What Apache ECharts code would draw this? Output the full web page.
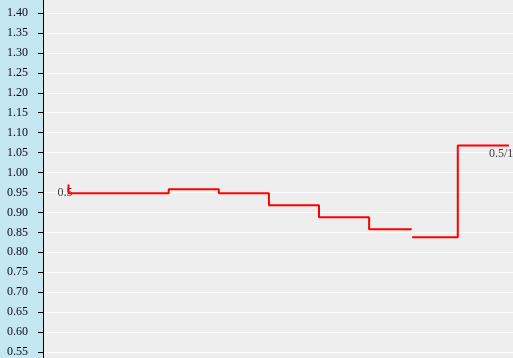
<!DOCTYPE html>
<html>
<head>
<meta charset="utf-8">
<script src="https://cdn.jsdelivr.net/npm/echarts@6/dist/echarts.min.js"></script>
<style>
html,body{margin:0;padding:0;background:#eeeeee;}
#chart{width:513px;height:358px;}
</style>
</head>
<body>
<div id="chart"></div>
<script>
// Data
var stepAX = [0, 2, 3, 4, 5, 6, 6.85];
var stepAY = [0.97, 0.948, 0.958, 0.948, 0.918, 0.888, 0.858];
var stepBX = [6.86, 7.77, 8.79];
var stepBY = [0.838, 0.838, 1.068];
var labelX = [0, 8.79];
var labelY = [0.948, 1.068];
var labelText = ['0.5', '0.5/1'];
var yMin = 0.55, yMax = 1.40, yStep = 0.05;

function pairs(xs, ys) { return xs.map(function (x, i) { return [x, ys[i]]; }); }

var labelOffsets = [[-3.5, 0], [-20, 8]];
var labelAligns = ['center', 'left'];
var labelData = labelX.map(function (x, i) {
  return {
    value: [x, labelY[i]],
    label: { formatter: labelText[i], offset: labelOffsets[i], align: labelAligns[i] }
  };
});

var chart = echarts.init(document.getElementById('chart'), null, { renderer: 'canvas' });
chart.setOption({
  animation: false,
  backgroundColor: '#eeeeee',
  graphic: {
    elements: [
      { type: 'rect', z: -100, shape: { x: 0, y: 0, width: 43, height: 358 }, style: { fill: '#c5e7f2' } },
      { type: 'line', z: 100, shape: { x1: 43.5, y1: 0, x2: 43.5, y2: 358 }, style: { stroke: '#000', lineWidth: 1 } }
    ]
  },
  grid: { left: 43, right: 0, top: 13, bottom: 5, containLabel: false },
  xAxis: {
    type: 'value', min: -0.509, max: 8.872, show: false,
    splitLine: { show: false }
  },
  yAxis: {
    type: 'value', min: yMin, max: yMax, interval: yStep,
    axisLine: { show: true, onZero: false, lineStyle: { color: '#000', width: 1 } },
    axisTick: { show: true, length: 5, lineStyle: { color: '#000', width: 1 } },
    axisLabel: {
      margin: 15, color: '#0a0a1a', fontFamily: 'Liberation Serif', fontSize: 12,
      formatter: function (v) { return v.toFixed(2); }
    },
    splitLine: { show: true, lineStyle: { color: '#ffffff', width: 1 } }
  },
  series: [
    {
      type: 'line', step: 'start', data: pairs(stepAX, stepAY),
      symbol: 'none', lineStyle: { color: '#ff0000', width: 2 }, z: 3
    },
    {
      type: 'line', step: 'start', data: pairs(stepBX, stepBY),
      symbol: 'none', lineStyle: { color: '#ff0000', width: 2 }, z: 3
    },
    {
      type: 'scatter', data: labelData, symbolSize: 0, z: 2,
      label: {
        show: true, position: 'inside', color: '#0a0a1a',
        fontFamily: 'Liberation Serif', fontSize: 12
      }
    }
  ]
});
</script>
</body>
</html>
